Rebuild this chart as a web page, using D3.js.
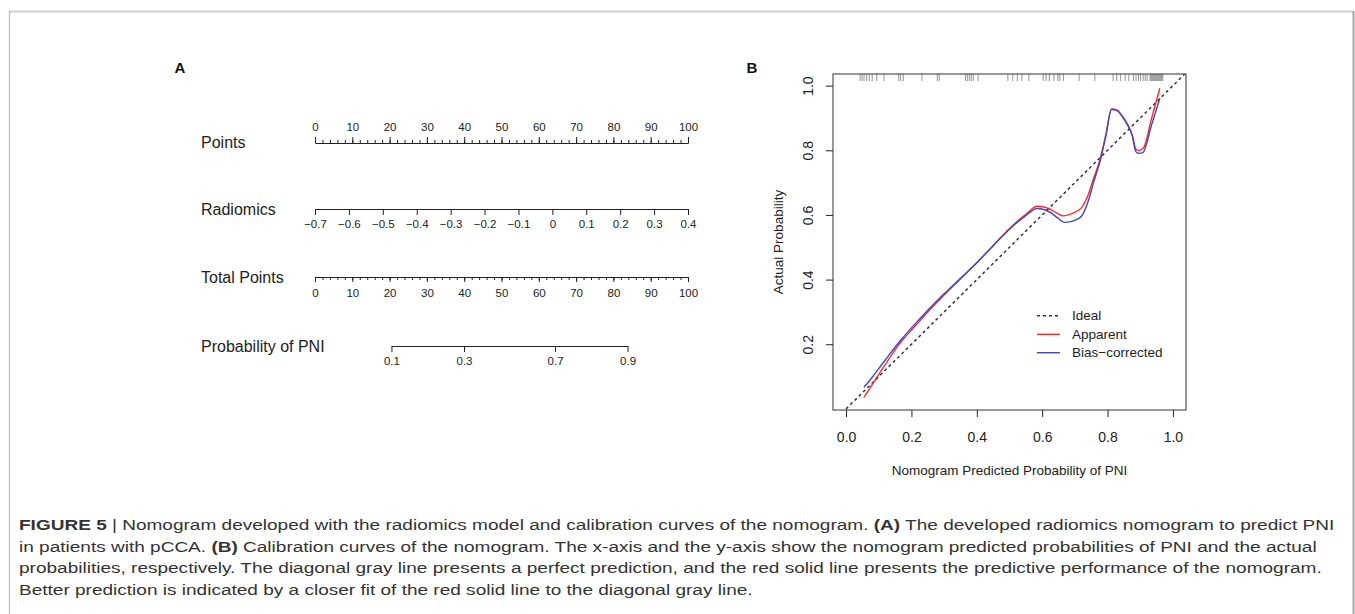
<!DOCTYPE html>
<html>
<head>
<meta charset="utf-8">
<script src="https://cdn.jsdelivr.net/npm/d3@7"></script>
<style>
  body { margin: 0; background: #fff; }
  svg { display: block; font-family: "Liberation Sans", Arial, Helvetica, sans-serif; }
</style>
</head>
<body>
<svg id="fig" width="1355" height="614"></svg>
<script>
// ---- panel A: nomogram ----
const nomoRows = ["Points", "Radiomics", "Total Points", "Probability of PNI"];
const pointsTicks = [0, 10, 20, 30, 40, 50, 60, 70, 80, 90, 100];
const pointsMinor = [0, 2, 4, 6, 8, 10, 12, 14, 16, 18, 20, 22, 24, 26, 28, 30, 32, 34, 36, 38, 40, 42, 44, 46, 48, 50,
                     52, 54, 56, 58, 60, 62, 64, 66, 68, 70, 72, 74, 76, 78, 80, 82, 84, 86, 88, 90, 92, 94, 96, 98, 100];
const radiomicsTicks = [-0.7, -0.6, -0.5, -0.4, -0.3, -0.2, -0.1, 0, 0.1, 0.2, 0.3, 0.4];
const probTicks = [0.1, 0.3, 0.7, 0.9];
const probEndPoints = [20.5, 83.8];   // total points where 0.1 and 0.9 sit

// ---- panel B: calibration ----
const xTicksB = [0, 0.2, 0.4, 0.6, 0.8, 1.0];
const yTicksB = [0.2, 0.4, 0.6, 0.8, 1.0];
const predApparent = [0.055, 0.08, 0.11, 0.14, 0.17, 0.20, 0.25, 0.30, 0.35, 0.40, 0.45, 0.50, 0.55, 0.585, 0.62, 0.645,
                      0.665, 0.69, 0.72, 0.74, 0.757, 0.777, 0.795, 0.812, 0.828, 0.845, 0.862, 0.876, 0.887, 0.895, 0.909, 0.935, 0.960];
const actApparent  = [0.036, 0.075, 0.122, 0.168, 0.210, 0.243, 0.300, 0.352, 0.402, 0.452, 0.505, 0.558, 0.602, 0.627, 0.620, 0.606,
                      0.597, 0.604, 0.622, 0.660, 0.712, 0.772, 0.850, 0.928, 0.925, 0.906, 0.879, 0.846, 0.803, 0.799, 0.806, 0.900, 0.992];
const predBias = [0.055, 0.08, 0.11, 0.14, 0.17, 0.20, 0.25, 0.30, 0.35, 0.40, 0.45, 0.50, 0.55, 0.585, 0.625, 0.648,
                  0.668, 0.69, 0.72, 0.74, 0.757, 0.777, 0.795, 0.812, 0.830, 0.846, 0.862, 0.876, 0.886, 0.893, 0.907, 0.935, 0.960];
const actBias  = [0.067, 0.098, 0.138, 0.178, 0.216, 0.250, 0.305, 0.356, 0.404, 0.452, 0.505, 0.556, 0.598, 0.620, 0.608, 0.590,
                  0.577, 0.580, 0.596, 0.640, 0.700, 0.766, 0.845, 0.926, 0.922, 0.903, 0.877, 0.843, 0.797, 0.791, 0.792, 0.880, 0.961];
const rugPred = [0.043, 0.049, 0.055, 0.063, 0.071, 0.080, 0.094, 0.116, 0.161, 0.167, 0.175, 0.232, 0.279, 0.285, 0.365, 0.371,
                 0.377, 0.383, 0.389, 0.404, 0.495, 0.510, 0.524, 0.538, 0.559, 0.603, 0.612, 0.622, 0.636, 0.648, 0.654, 0.665,
                 0.713, 0.761, 0.817, 0.828, 0.840, 0.854, 0.865, 0.879, 0.887, 0.895, 0.901, 0.909, 0.915, 0.921, 0.930, 0.933,
                 0.936, 0.939, 0.942, 0.945, 0.948, 0.951, 0.954, 0.957, 0.960, 0.963, 0.966, 0.969];
const legendItems = [
  { name: "Ideal", color: "#333", dash: "3,3" },
  { name: "Apparent", color: "#ff2a2a", dash: null },
  { name: "Bias\u2212corrected", color: "#3f48c4", dash: null }
];
const xLabelB = "Nomogram Predicted Probability of PNI";
const yLabelB = "Actual Probability";

// ---- caption ----
const captionLines = [
  [["FIGURE 5", true], [" | Nomogram developed with the radiomics model and calibration curves of the nomogram. ", false], ["(A)", true], [" The developed radiomics nomogram to predict PNI", false]],
  [["in patients with pCCA. ", false], ["(B)", true], [" Calibration curves of the nomogram. The x-axis and the y-axis show the nomogram predicted probabilities of PNI and the actual", false]],
  [["probabilities, respectively. The diagonal gray line presents a perfect prediction, and the red solid line presents the predictive performance of the nomogram.", false]],
  [["Better prediction is indicated by a closer fit of the red solid line to the diagonal gray line.", false]]
];

const svg = d3.select("#fig");
const ink = "#222";

// figure frame
svg.append("line").attr("x1", 9).attr("x2", 1354).attr("y1", 11.5).attr("y2", 11.5)
  .attr("stroke", "#cfcfcf").attr("stroke-width", 1.8);
svg.append("line").attr("x1", 9.5).attr("x2", 9.5).attr("y1", 11).attr("y2", 614)
  .attr("stroke", "#bdbdbd").attr("stroke-width", 1.3);
svg.append("line").attr("x1", 1353.5).attr("x2", 1353.5).attr("y1", 11).attr("y2", 614)
  .attr("stroke", "#a8a8a8").attr("stroke-width", 2);

// panel letters
svg.append("text").attr("x", 180).attr("y", 73).attr("text-anchor", "middle")
  .attr("font-weight", "bold").attr("font-size", 15).attr("fill", "#111").text("A");
svg.append("text").attr("x", 752).attr("y", 73).attr("text-anchor", "middle")
  .attr("font-weight", "bold").attr("font-size", 15).attr("fill", "#111").text("B");

function styleAxis(g, fs) {
  g.selectAll(".domain").attr("stroke", ink);
  g.selectAll(".tick line").attr("stroke", ink);
  g.selectAll("text").attr("font-size", fs).attr("fill", ink);
  g.attr("font-family", null);
}

// ---------- nomogram ----------
const pts = d3.scaleLinear().domain([0, 100]).range([315, 688]);
const rad = d3.scaleLinear().domain([-0.7, 0.4]).range([315, 688]);
const logit = p => Math.log(p / (1 - p));
const prob = d3.scaleLinear()
  .domain([logit(probTicks[0]), logit(probTicks[probTicks.length - 1])])
  .range(probEndPoints.map(pts));

const rowY = [143, 209, 277, 346];
const nomo = svg.append("g");

nomo.selectAll("text.rowlab").data(nomoRows).join("text")
  .attr("class", "rowlab")
  .attr("x", 201).attr("y", (d, i) => rowY[i] + (i === 0 ? -1 : 0))
  .attr("dy", "0.35em").attr("font-size", 16).attr("fill", ink)
  .text(d => d);

// Points
nomo.append("g").attr("transform", `translate(0,${rowY[0]})`)
  .call(d3.axisTop(pts).tickValues(pointsMinor).tickSize(3).tickSizeOuter(0).tickFormat(""))
  .call(g => styleAxis(g, 11.5));
nomo.append("g").attr("transform", `translate(0,${rowY[0]})`)
  .call(d3.axisTop(pts).tickValues(pointsTicks).tickSize(6).tickSizeOuter(0).tickPadding(6))
  .call(g => styleAxis(g, 11.5));

// Radiomics
nomo.append("g").attr("transform", `translate(0,${rowY[1]})`)
  .call(d3.axisBottom(rad).tickValues(radiomicsTicks).tickSize(6).tickSizeOuter(0).tickPadding(5)
    .tickFormat(d => Math.abs(d) < 1e-9 ? "0" : d3.format(".1f")(d)))
  .call(g => styleAxis(g, 11.5));

// Total Points
nomo.append("g").attr("transform", `translate(0,${rowY[2]})`)
  .call(d3.axisBottom(pts).tickValues(pointsMinor).tickSize(3).tickSizeOuter(0).tickFormat(""))
  .call(g => styleAxis(g, 11.5));
nomo.append("g").attr("transform", `translate(0,${rowY[2]})`)
  .call(d3.axisBottom(pts).tickValues(pointsTicks).tickSize(5).tickSizeOuter(0).tickPadding(7))
  .call(g => styleAxis(g, 11.5));

// Probability of PNI
nomo.append("g").attr("transform", `translate(0,${rowY[3]})`)
  .call(d3.axisBottom(prob).tickValues(probTicks.map(logit)).tickSize(6).tickSizeOuter(0).tickPadding(5)
    .tickFormat((d, i) => d3.format(".1f")(probTicks[i])))
  .call(g => styleAxis(g, 11.5));

// ---------- calibration plot ----------
const box = { left: 833, right: 1186, top: 74, bottom: 410 };
const xB = d3.scaleLinear().domain([-0.04, 1.04]).range([box.left, box.right]);
const yB = d3.scaleLinear().domain([-0.0034, 1.036]).range([box.bottom, box.top]);
const cal = svg.append("g");

cal.append("clipPath").attr("id", "plotclip").append("rect")
  .attr("x", box.left).attr("y", box.top)
  .attr("width", box.right - box.left).attr("height", box.bottom - box.top);

// ideal diagonal
cal.append("line").attr("clip-path", "url(#plotclip)")
  .attr("x1", xB(0)).attr("y1", yB(0)).attr("x2", xB(1.1)).attr("y2", yB(1.1))
  .attr("stroke", "#333").attr("stroke-width", 1.5).attr("stroke-dasharray", "3,3");

const line = d3.line().x(d => xB(d[0])).y(d => yB(d[1])).curve(d3.curveMonotoneX);
cal.append("path").datum(d3.zip(predApparent, actApparent))
  .attr("d", line).attr("fill", "none").attr("stroke", legendItems[1].color).attr("stroke-width", 1.4);
cal.append("path").datum(d3.zip(predBias, actBias))
  .attr("d", line).attr("fill", "none").attr("stroke", legendItems[2].color).attr("stroke-width", 1.4);

// rug of predicted probabilities
cal.selectAll("line.rug").data(rugPred).join("line")
  .attr("class", "rug")
  .attr("x1", d => xB(d)).attr("x2", d => xB(d))
  .attr("y1", box.top).attr("y2", box.top + 7)
  .attr("stroke", "#666").attr("stroke-width", 0.7);

// box
cal.append("rect").attr("x", box.left).attr("y", box.top)
  .attr("width", box.right - box.left).attr("height", box.bottom - box.top)
  .attr("fill", "none").attr("stroke", "#333").attr("stroke-width", 1);

// axes
cal.append("g").attr("transform", `translate(0,${box.bottom})`)
  .call(d3.axisBottom(xB).tickValues(xTicksB).tickFormat(d3.format(".1f")).tickSize(7).tickPadding(15))
  .call(g => g.select(".domain").remove())
  .call(g => styleAxis(g, 14));

cal.append("g").attr("transform", `translate(${box.left},0)`)
  .call(d3.axisLeft(yB).tickValues(yTicksB).tickFormat(d3.format(".1f")).tickSize(7))
  .call(g => g.select(".domain").remove())
  .call(g => styleAxis(g, 14))
  .call(g => g.selectAll(".tick text")
    .attr("x", 0).attr("dy", "0.35em").attr("text-anchor", "middle")
    .attr("transform", "translate(-25,0) rotate(-90)"));

// axis titles
cal.append("text").attr("x", (box.left + box.right) / 2).attr("y", 470).attr("dy", "0.35em")
  .attr("text-anchor", "middle").attr("font-size", 13.5).attr("fill", ink).text(xLabelB);
cal.append("text").attr("transform", `translate(778,${(box.top + box.bottom) / 2}) rotate(-90)`)
  .attr("dy", "0.35em").attr("text-anchor", "middle").attr("font-size", 13.5).attr("fill", ink).text(yLabelB);

// legend
const leg = cal.append("g");
const legY = [315.7, 334.3, 352.7];
legendItems.forEach((it, i) => {
  leg.append("line").attr("x1", 1037).attr("x2", 1060).attr("y1", legY[i]).attr("y2", legY[i])
    .attr("stroke", it.color).attr("stroke-width", it.dash ? 1.5 : 1.4)
    .attr("stroke-dasharray", it.dash);
  leg.append("text").attr("x", 1072).attr("y", legY[i]).attr("dy", "0.35em")
    .attr("font-size", 13.5).attr("fill", ink).text(it.name);
});

// ---------- caption ----------
const cap = svg.append("g").attr("fill", "#333").attr("font-size", 15.5);
const capBase = [530.5, 552, 573.5, 595];
const capTexts = cap.selectAll("text").data(captionLines).join("text")
  .attr("x", 0).attr("y", (d, i) => capBase[i]);
capTexts.selectAll("tspan").data(d => d).join("tspan")
  .attr("font-weight", d => d[1] ? "bold" : null)
  .text(d => d[0]);
const w1 = capTexts.nodes()[0].getComputedTextLength();
cap.attr("transform", `translate(19,0) scale(${1316 / w1},1)`);
</script>
</body>
</html>
